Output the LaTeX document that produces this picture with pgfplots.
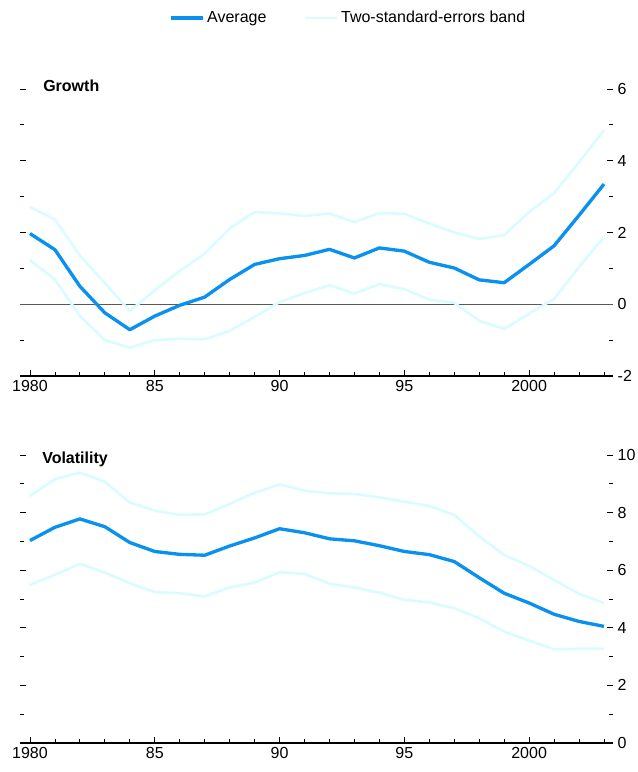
\documentclass[border=0pt]{standalone}
\usepackage{fontspec}
\setmainfont{Liberation Sans}
\usepackage{pgfplots}
\usepackage{pgfplotstable}
\pgfplotsset{compat=1.18}
\definecolor{avgblue}{RGB}{10,145,240}
\definecolor{bandcyan}{RGB}{218,252,255}

\pgfplotstableread{
year avg up lo
1980 1.97 2.71 1.23
1981 1.52 2.36 0.69
1982 0.50 1.36 -0.33
1983 -0.24 0.59 -1.00
1984 -0.71 -0.19 -1.21
1985 -0.33 0.39 -1.00
1986 -0.03 0.93 -0.96
1987 0.20 1.41 -0.98
1988 0.69 2.11 -0.74
1989 1.11 2.57 -0.35
1990 1.27 2.53 0.06
1991 1.36 2.46 0.31
1992 1.53 2.53 0.53
1993 1.29 2.29 0.30
1994 1.57 2.54 0.56
1995 1.48 2.52 0.42
1996 1.17 2.25 0.13
1997 1.01 2.00 0.04
1998 0.68 1.82 -0.46
1999 0.60 1.93 -0.69
2000 1.11 2.57 -0.26
2001 1.63 3.10 0.15
2002 2.48 3.96 1.04
2003 3.35 4.85 1.87
}\growth

\pgfplotstableread{
year avg up lo
1980 7.03 8.58 5.49
1981 7.49 9.16 5.84
1982 7.78 9.39 6.22
1983 7.51 9.07 5.92
1984 6.96 8.35 5.55
1985 6.65 8.07 5.24
1986 6.55 7.92 5.20
1987 6.52 7.94 5.09
1988 6.84 8.30 5.40
1989 7.12 8.69 5.57
1990 7.44 8.98 5.93
1991 7.30 8.76 5.87
1992 7.09 8.67 5.53
1993 7.02 8.65 5.40
1994 6.85 8.53 5.22
1995 6.65 8.38 4.97
1996 6.54 8.23 4.88
1997 6.30 7.92 4.68
1998 5.74 7.17 4.33
1999 5.20 6.53 3.87
2000 4.86 6.15 3.55
2001 4.47 5.66 3.26
2002 4.22 5.18 3.27
2003 4.05 4.86 3.27
}\volat

\pgfplotsset{
  panel/.style={
    scale only axis, width=444.75pt, anchor=south west,
    xmin=1979.6, xmax=2003.36,
    axis line style={draw=none},
    tick align=inside,
    xtick pos=bottom, ytick pos=both, yticklabel pos=right,
    xtick={1980,1985,1990,1995,2000},
    xticklabels={1980,85,90,95,2000},
    minor xtick={1980,...,2003},
    every tick label/.append style={font=\fontsize{12}{14}\selectfont},
    major tick length=4.5pt, minor tick length=3pt,
    every tick/.style={black, line width=0.6pt},
    clip=false,
  },
  avgline/.style={avgblue, line width=2.5pt, line join=round},
  bandline/.style={bandcyan, line width=2pt, line join=round},
}

\begin{document}
\begin{tikzpicture}
\useasboundingbox (0,0) rectangle (477.75pt,579pt);

\begin{axis}[panel, height=215.25pt, at={(15pt,297pt)},
  ymin=-2, ymax=6,
  ytick={-2,0,2,4,6}, yticklabels={-2,0,2,4,6},
  minor ytick={-1,1,3,5},
  legend style={at={(0.554,1.247)}, anchor=center, draw=none, fill=none,
    legend columns=2, font=\fontsize{12}{14}\selectfont,
    /tikz/every even column/.append style={column sep=26pt}},
  legend image code/.code={\draw[#1] (0pt,0pt) -- (24pt,0pt);},
]
\addlegendimage{avgline}
\addlegendentry{Average}
\addlegendimage{bandline}
\addlegendentry{Two-standard-errors band}
\draw[black!65, line width=1.1pt] (axis cs:1979.6,0) -- (axis cs:2003.36,0);
\draw[black, line width=1pt] (rel axis cs:0,0) -- (rel axis cs:1,0);
\addplot[bandline, forget plot] table[x=year, y=up] {\growth};
\addplot[bandline, forget plot] table[x=year, y=lo] {\growth};
\addplot[avgline, forget plot] table[x=year, y=avg] {\growth};
\node[anchor=base west, inner sep=0pt, font=\bfseries\fontsize{12}{14}\selectfont] at (rel axis cs:0.0388,0.99) {Growth};
\end{axis}

\begin{axis}[panel, height=216pt, at={(15pt,21.75pt)},
  ymin=0, ymax=10,
  ytick={0,2,4,6,8,10}, yticklabels={0,2,4,6,8,10},
  minor ytick={1,3,5,7,9},
]
\draw[black, line width=1pt] (rel axis cs:0,0) -- (rel axis cs:1,0);
\addplot[bandline] table[x=year, y=up] {\volat};
\addplot[bandline] table[x=year, y=lo] {\volat};
\addplot[avgline] table[x=year, y=avg] {\volat};
\node[anchor=base west, inner sep=0pt, font=\bfseries\fontsize{12}{14}\selectfont] at (rel axis cs:0.0371,0.972) {Volatility};
\end{axis}
\end{tikzpicture}
\end{document}
